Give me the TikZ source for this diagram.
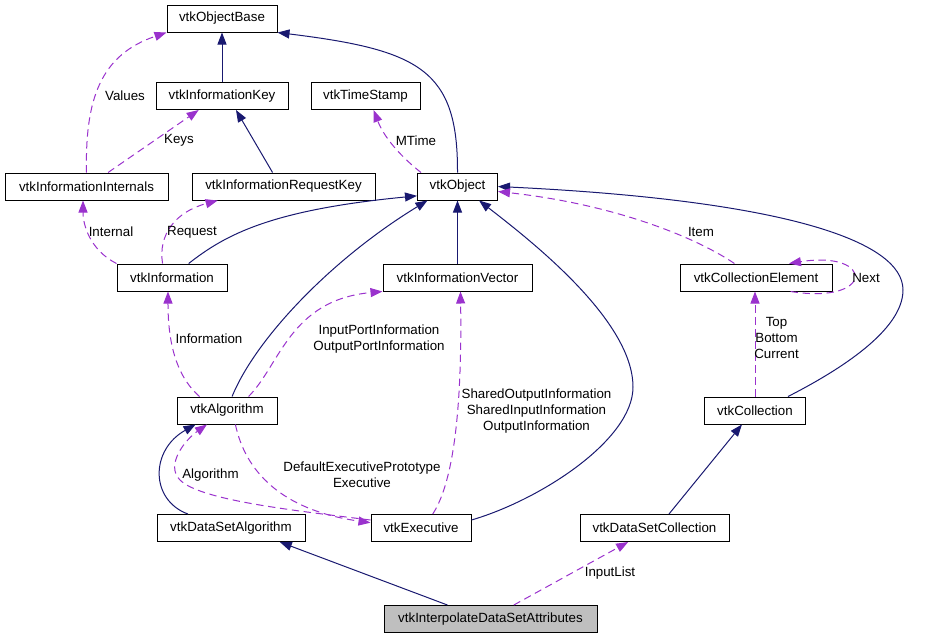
\documentclass[tikz,border=0pt]{standalone}
\usepackage{fontspec}
\setmainfont{Liberation Sans}
\usetikzlibrary{arrows.meta}

\definecolor{inhnavy}{RGB}{25,25,112}
\definecolor{usepurple}{RGB}{154,50,205}
\definecolor{mainfill}{RGB}{191,191,191}

\begin{document}
\begin{tikzpicture}[
        x=0.75pt,   % 1 unit = 1 pixel of the layout
        y=-0.75pt,  % y runs downwards
        cls/.style={draw=black, line width=0.75pt, fill=white, inner sep=0pt,
            minimum height=20.25pt, font=\fontsize{10}{12}\selectfont},
        maincls/.style={cls, fill=mainfill},
        inherit/.style={draw=inhnavy, line width=0.75pt,
            -{Triangle[length=9pt, width=6.75pt]}},
        usage/.style={draw=usepurple, line width=0.75pt, dash pattern=on 5.5pt off 3.5pt,
            -{Triangle[length=9pt, width=6.75pt]}},
        lbl/.style={font=\fontsize{10}{12}\selectfont, align=center, inner sep=0pt},
    ]

    \useasboundingbox (0,0) rectangle (940,637);

    % Classes, top row first
    \node[cls, minimum width=82.5pt] (objbase) at (222, 18.5) {vtkObjectBase};
    \node[cls, minimum width=99pt] (infokey) at (222, 96) {vtkInformationKey};
    \node[cls, minimum width=81.75pt] (timestamp) at (365.5, 96) {vtkTimeStamp};
    \node[cls, minimum width=122.25pt] (internals) at (86.5, 186.5) {vtkInformationInternals};
    \node[cls, minimum width=137.25pt] (reqkey) at (283.5, 186.5) {vtkInformationRequestKey};
    \node[cls, minimum width=60pt] (obj) at (457.5, 186.5) {vtkObject};
    \node[cls, minimum width=82.5pt] (info) at (172, 277.5) {vtkInformation};
    \node[cls, minimum width=111.75pt] (infovec) at (457.5, 277.5) {vtkInformationVector};
    \node[cls, minimum width=114pt] (collel) at (756, 277.5) {vtkCollectionElement};
    \node[cls, minimum width=75pt] (algo) at (227, 410.5) {vtkAlgorithm};
    \node[cls, minimum width=75.75pt] (coll) at (755, 410.5) {vtkCollection};
    \node[cls, minimum width=111pt] (dsalgo) at (231, 528) {vtkDataSetAlgorithm};
    \node[cls, minimum width=75pt] (exec) at (421, 528) {vtkExecutive};
    \node[cls, minimum width=111.75pt] (dscoll) at (654.5, 528) {vtkDataSetCollection};
    \node[maincls, minimum width=159.75pt] (interp) at (490.5, 619) {vtkInterpolateDataSetAttributes};

    % Inheritance (solid)
    \draw[inherit] (infokey.north) -- (objbase.south);
    \draw[inherit] (reqkey.128) -- (infokey.315);
    \draw[inherit] (obj.north) .. controls (458,70) and (420,50) .. (objbase.south east);
    \draw[inherit] (info.40) .. controls (225,235) and (270,210) .. (obj.193);
    \draw[inherit] (algo.70) .. controls (255,340) and (330,260) .. (obj.205);
    \draw[inherit] (infovec.north) -- (obj.south);
    \draw[inherit] (exec.9) .. controls (540,500) and (633,440) .. (633,387)
        .. controls (633,320) and (530,240) .. (obj.327);
    \draw[inherit] (coll.23) .. controls (840,370) and (903,330) .. (903,290)
        .. controls (903,240) and (780,200) .. (obj.east);
    \draw[inherit] (dsalgo.162) .. controls (150,500) and (150,450) .. (algo.204);
    \draw[inherit] (interp.162) -- (dsalgo.344);
    \draw[inherit] (dscoll.44) -- (coll.227);

    % Usage (dashed)
    \draw[usage] (internals.north) .. controls (85,100) and (100,55) .. (objbase.south west);
    \draw[usage] (internals.33) -- (infokey.211);
    \draw[usage] (obj.159) .. controls (405,160) and (385,140) .. (timestamp.300);
    \draw[usage] (info.north west) .. controls (90,250) and (83,225) .. (internals.256);
    \draw[usage] (info.124) .. controls (158,235) and (175,212) .. (reqkey.192);
    \draw[usage] (collel.147) .. controls (700,240) and (620,205) .. (obj.353);
    \draw[usage] (collel.338) .. controls (875,305) and (875,250) .. (collel.23);
    \draw[usage] (algo.153) .. controls (175,375) and (168,340) .. (info.254);
    \draw[usage] (algo.33) .. controls (280,365) and (290,300) .. (infovec.south west);
    \draw[usage] (exec.50) .. controls (455,480) and (462,400) .. (infovec.282);
    \draw[usage] (coll.north) -- (coll.north |- collel.south);
    \draw[usage] (algo.301) .. controls (245,470) and (280,510) .. (exec.174);
    \draw[usage] (exec.171) .. controls (290,510) and (200,500) .. (180,480)
        .. controls (165,465) and (185,440) .. (algo.215);
    \draw[usage] (interp.31) -- (dscoll.208);

    % Edge labels
    \node[lbl] (lblvalues) at (125, 96) {Values};
    \node[lbl] (lblkeys) at (179, 140.5) {Keys};
    \node[lbl] (lblmtime) at (416, 140.5) {MTime};
    \node[lbl] (lblinternal) at (111, 232) {Internal};
    \node[lbl] (lblrequest) at (192, 232) {Request};
    \node[lbl] (lblitem) at (701, 232) {Item};
    \node[lbl] (lblnext) at (866, 277.5) {Next};
    \node[lbl] (lblinformation) at (209, 339) {Information};
    \node[lbl] (lblports) at (379, 339) {InputPortInformation\\OutputPortInformation};
    \node[lbl] (lblshared) at (536.5, 411) {SharedOutputInformation\\SharedInputInformation\\OutputInformation};
    \node[lbl] (lblcollitems) at (776.5, 338) {Top\\Bottom\\Current};
    \node[lbl] (lbldefexec) at (362, 475) {DefaultExecutivePrototype\\Executive};
    \node[lbl] (lblalgorithm) at (210.5, 475) {Algorithm};
    \node[lbl] (lblinputlist) at (610, 573) {InputList};

\end{tikzpicture}
\end{document}
